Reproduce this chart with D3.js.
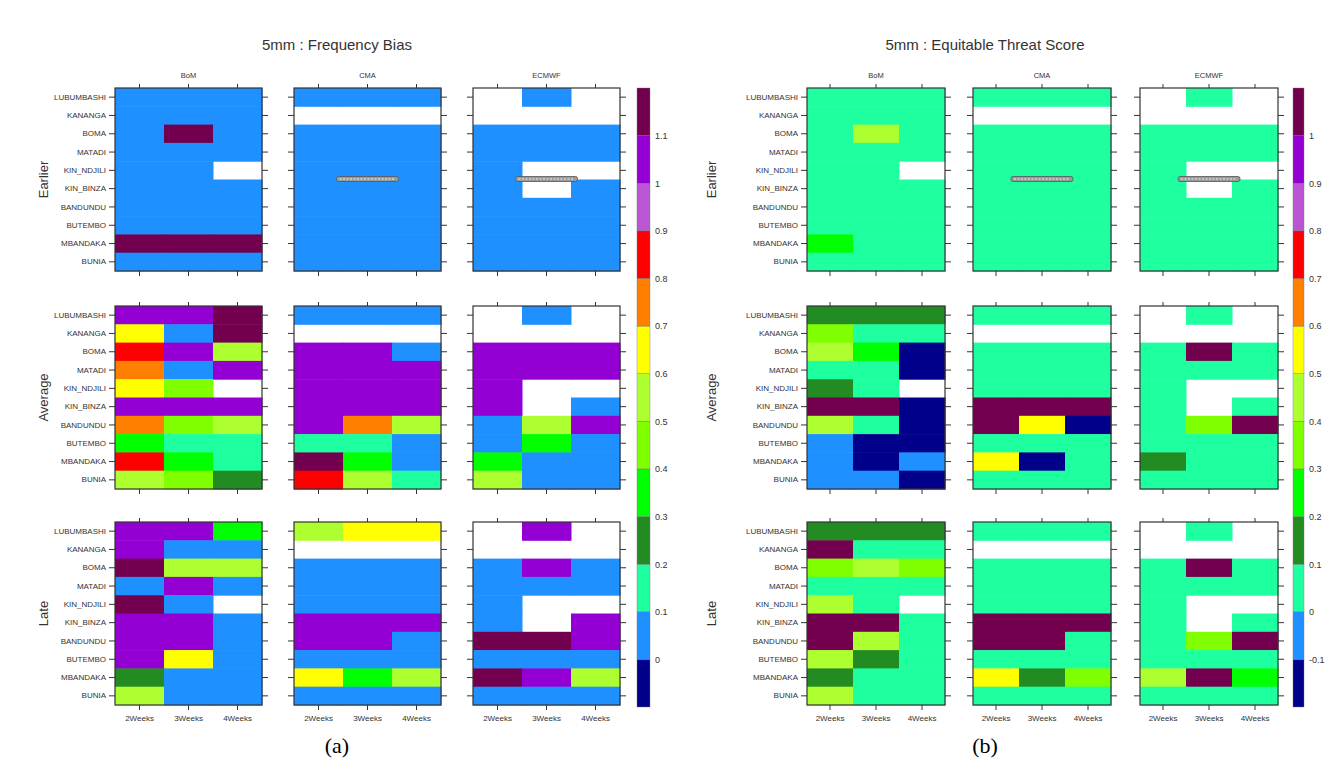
<!DOCTYPE html>
<html>
<head>
<meta charset="utf-8">
<script src="https://cdn.jsdelivr.net/npm/d3@7"></script>
<style>
  body { margin: 0; background: #fff; }
  svg { display: block; font-family: "Liberation Sans", Arial, sans-serif; }
  .axis text { fill: #333; }
</style>
</head>
<body>
<svg id="chart" width="1332" height="766"></svg>
<script>
// ---- data (one value per coloured cell, null = blank) ----
var stations = ["LUBUMBASHI", "KANANGA", "BOMA", "MATADI", "KIN_NDJILI",
                "KIN_BINZA", "BANDUNDU", "BUTEMBO", "MBANDAKA", "BUNIA"];
var leadTimes = ["2Weeks", "3Weeks", "4Weeks"];
var models = ["BoM", "CMA", "ECMWF"];
var periods = ["Earlier", "Average", "Late"];

var palette = ["#00008b", "#1e90ff", "#1effa0", "#228b22", "#00ff00", "#7fff00", "#adff2f",
               "#ffff00", "#ff7f00", "#ff0000", "#ba55d3", "#9400d3", "#72004f"];
var fbiBreaks = [0, 0.1, 0.2, 0.3, 0.4, 0.5, 0.6, 0.7, 0.8, 0.9, 1, 1.1];
var etsBreaks = [-0.1, 0, 0.1, 0.2, 0.3, 0.4, 0.5, 0.6, 0.7, 0.8, 0.9, 1];

// each row: BoM 2/3/4 weeks, CMA 2/3/4 weeks, ECMWF 2/3/4 weeks
var fbiEarlier = [
  [0.05, 0.05, 0.05,  0.05, 0.05, 0.05,  null, 0.05, null],
  [0.05, 0.05, 0.05,  null, null, null,  null, null, null],
  [0.05, 1.2, 0.05,   0.05, 0.05, 0.05,  0.05, 0.05, 0.05],
  [0.05, 0.05, 0.05,  0.05, 0.05, 0.05,  0.05, 0.05, 0.05],
  [0.05, 0.05, null,  0.05, 0.05, 0.05,  0.05, null, null],
  [0.05, 0.05, 0.05,  0.05, 0.05, 0.05,  0.05, null, 0.05],
  [0.05, 0.05, 0.05,  0.05, 0.05, 0.05,  0.05, 0.05, 0.05],
  [0.05, 0.05, 0.05,  0.05, 0.05, 0.05,  0.05, 0.05, 0.05],
  [1.2, 1.2, 1.2,     0.05, 0.05, 0.05,  0.05, 0.05, 0.05],
  [0.05, 0.05, 0.05,  0.05, 0.05, 0.05,  0.05, 0.05, 0.05]
];
var fbiAverage = [
  [1.05, 1.05, 1.2,   0.05, 0.05, 0.05,  null, 0.05, null],
  [0.65, 0.05, 1.2,   null, null, null,  null, null, null],
  [0.85, 1.05, 0.55,  1.05, 1.05, 0.05,  1.05, 1.05, 1.05],
  [0.75, 0.05, 1.05,  1.05, 1.05, 1.05,  1.05, 1.05, 1.05],
  [0.65, 0.45, null,  1.05, 1.05, 1.05,  1.05, null, null],
  [1.05, 1.05, 1.05,  1.05, 1.05, 1.05,  1.05, null, 0.05],
  [0.75, 0.45, 0.55,  1.05, 0.75, 0.55,  0.05, 0.55, 1.05],
  [0.35, 0.15, 0.15,  0.15, 0.15, 0.05,  0.05, 0.35, 0.05],
  [0.85, 0.35, 0.15,  1.2, 0.35, 0.05,   0.35, 0.05, 0.05],
  [0.55, 0.45, 0.25,  0.85, 0.55, 0.15,  0.55, 0.05, 0.05]
];
var fbiLate = [
  [1.05, 1.05, 0.35,  0.55, 0.65, 0.65,  null, 1.05, null],
  [1.05, 0.05, 0.05,  null, null, null,  null, null, null],
  [1.2, 0.55, 0.55,   0.05, 0.05, 0.05,  0.05, 1.05, 0.05],
  [0.05, 1.05, 0.05,  0.05, 0.05, 0.05,  0.05, 0.05, 0.05],
  [1.2, 0.05, null,   0.05, 0.05, 0.05,  0.05, null, null],
  [1.05, 1.05, 0.05,  1.05, 1.05, 1.05,  0.05, null, 1.05],
  [1.05, 1.05, 0.05,  1.05, 1.05, 0.05,  1.2, 1.2, 1.05],
  [1.05, 0.65, 0.05,  0.05, 0.05, 0.05,  0.05, 0.05, 0.05],
  [0.25, 0.05, 0.05,  0.65, 0.35, 0.55,  1.2, 1.05, 0.55],
  [0.55, 0.05, 0.05,  0.05, 0.05, 0.05,  0.05, 0.05, 0.05]
];
var etsEarlier = [
  [0.05, 0.05, 0.05,  0.05, 0.05, 0.05,  null, 0.05, null],
  [0.05, 0.05, 0.05,  null, null, null,  null, null, null],
  [0.05, 0.45, 0.05,  0.05, 0.05, 0.05,  0.05, 0.05, 0.05],
  [0.05, 0.05, 0.05,  0.05, 0.05, 0.05,  0.05, 0.05, 0.05],
  [0.05, 0.05, null,  0.05, 0.05, 0.05,  0.05, null, null],
  [0.05, 0.05, 0.05,  0.05, 0.05, 0.05,  0.05, null, 0.05],
  [0.05, 0.05, 0.05,  0.05, 0.05, 0.05,  0.05, 0.05, 0.05],
  [0.05, 0.05, 0.05,  0.05, 0.05, 0.05,  0.05, 0.05, 0.05],
  [0.25, 0.05, 0.05,  0.05, 0.05, 0.05,  0.05, 0.05, 0.05],
  [0.05, 0.05, 0.05,  0.05, 0.05, 0.05,  0.05, 0.05, 0.05]
];
var etsAverage = [
  [0.15, 0.15, 0.15,    0.05, 0.05, 0.05,    null, 0.05, null],
  [0.35, 0.05, 0.05,    null, null, null,    null, null, null],
  [0.45, 0.25, -0.15,   0.05, 0.05, 0.05,    0.05, 1.1, 0.05],
  [0.05, 0.05, -0.15,   0.05, 0.05, 0.05,    0.05, 0.05, 0.05],
  [0.15, 0.05, null,    0.05, 0.05, 0.05,    0.05, null, null],
  [1.1, 1.1, -0.15,     1.1, 1.1, 1.1,       0.05, null, 0.05],
  [0.45, 0.05, -0.15,   1.1, 0.55, -0.15,    0.05, 0.35, 1.1],
  [-0.05, -0.15, -0.15, 0.05, 0.05, 0.05,    0.05, 0.05, 0.05],
  [-0.05, -0.15, -0.05, 0.55, -0.15, 0.05,   0.15, 0.05, 0.05],
  [-0.05, -0.05, -0.15, 0.05, 0.05, 0.05,    0.05, 0.05, 0.05]
];
var etsLate = [
  [0.15, 0.15, 0.15,  0.05, 0.05, 0.05,  null, 0.05, null],
  [1.1, 0.05, 0.05,   null, null, null,  null, null, null],
  [0.35, 0.45, 0.35,  0.05, 0.05, 0.05,  0.05, 1.1, 0.05],
  [0.05, 0.05, 0.05,  0.05, 0.05, 0.05,  0.05, 0.05, 0.05],
  [0.45, 0.05, null,  0.05, 0.05, 0.05,  0.05, null, null],
  [1.1, 1.1, 0.05,    1.1, 1.1, 1.1,     0.05, null, 0.05],
  [1.1, 0.45, 0.05,   1.1, 1.1, 0.05,    0.05, 0.35, 1.1],
  [0.45, 0.15, 0.05,  0.05, 0.05, 0.05,  0.05, 0.05, 0.05],
  [0.15, 0.05, 0.05,  0.55, 0.15, 0.35,  0.45, 1.1, 0.25],
  [0.45, 0.05, 0.05,  0.05, 0.05, 0.05,  0.05, 0.05, 0.05]
];

// ---- drawing ----
var svg = d3.select("#chart");
var panelTops = [88, 306, 522];
var panelH = 183;

function drawFigure(opts) {
  var g = svg.append("g");
  var color = d3.scaleThreshold().domain(opts.breaks).range(palette);

  g.append("text")
    .attr("x", opts.titleX).attr("y", 50)
    .attr("text-anchor", "middle")
    .attr("font-size", 15).attr("fill", "#333")
    .text(opts.title);

  g.append("text")
    .attr("x", opts.titleX).attr("y", 753)
    .attr("text-anchor", "middle")
    .attr("font-family", "'Liberation Serif', 'Times New Roman', serif")
    .attr("font-size", 22).attr("fill", "#000")
    .text(opts.tag);

  opts.grids.forEach(function(grid, pi) {
    var y0 = panelTops[pi];
    var y = d3.scaleBand().domain(stations).range([y0, y0 + panelH]);

    // period label
    g.append("text")
      .attr("transform", "translate(" + opts.periodX + "," + (y0 + panelH / 2) + ") rotate(-90)")
      .attr("text-anchor", "middle")
      .attr("font-size", 13).attr("fill", "#333")
      .text(periods[pi]);

    models.forEach(function(m, mi) {
      var x0 = opts.panelX[mi];
      var x = d3.scaleBand().domain(leadTimes).range([x0, x0 + opts.panelW]);
      var cells = [];
      stations.forEach(function(s, si) {
        leadTimes.forEach(function(l, li) {
          cells.push({ s: s, l: l, v: grid[si][mi * 3 + li] });
        });
      });

      var p = g.append("g");
      p.selectAll("rect.cell")
        .data(cells.filter(function(d) { return d.v !== null; }))
        .enter().append("rect")
        .attr("class", "cell")
        .attr("x", function(d) { return x(d.l); })
        .attr("y", function(d) { return y(d.s); })
        .attr("width", x.bandwidth() + 0.5)
        .attr("height", y.bandwidth() + 0.5)
        .attr("fill", function(d) { return color(d.v); });

      // unreadable overlay blob seen in the Earlier CMA / ECMWF panels
      if (pi === 0 && mi > 0) {
        var cx = x0 + opts.panelW / 2;
        var cy = y("KIN_BINZA");
        p.append("rect")
          .attr("x", cx - 31).attr("y", cy - 3)
          .attr("width", 62).attr("height", 5).attr("rx", 2)
          .attr("fill", "#9a9a9a").attr("stroke", "#555").attr("stroke-width", 0.8);
        p.append("line")
          .attr("x1", cx - 28).attr("x2", cx + 28)
          .attr("y1", cy - 0.5).attr("y2", cy - 0.5)
          .attr("stroke", "#eee").attr("stroke-width", 1.2)
          .attr("stroke-dasharray", "2,1.5");
      }

      var ax = d3.axisLeft(y).tickSize(6).tickPadding(3);
      var la = p.append("g").attr("class", "axis")
        .attr("transform", "translate(" + x0 + ",0)")
        .call(ax);
      la.selectAll("text").attr("font-size", 8).style("display", mi === 0 ? null : "none");

      p.append("g").attr("class", "axis")
        .attr("transform", "translate(" + (x0 + opts.panelW) + ",0)")
        .call(d3.axisRight(y).tickSize(6).tickFormat(""));

      p.append("g").attr("class", "axis")
        .attr("transform", "translate(0," + y0 + ")")
        .call(d3.axisTop(x).tickSize(4).tickFormat(""));

      var ba = p.append("g").attr("class", "axis")
        .attr("transform", "translate(0," + (y0 + panelH) + ")")
        .call(d3.axisBottom(x).tickSize(5).tickPadding(5));
      ba.selectAll("text").attr("font-size", 8).style("display", pi === 2 ? null : "none");

      p.selectAll(".axis path.domain").remove();
      p.selectAll(".axis line").attr("stroke", "#333");

      p.append("rect")
        .attr("x", x0).attr("y", y0)
        .attr("width", opts.panelW).attr("height", panelH)
        .attr("fill", "none").attr("stroke", "#333").attr("stroke-width", 1.2);

      if (pi === 0) {
        p.append("text")
          .attr("x", x0 + opts.panelW / 2).attr("y", 78)
          .attr("text-anchor", "middle")
          .attr("font-size", 7.5).attr("fill", "#333")
          .text(m);
      }
    });
  });

  // colour key
  var lo = opts.breaks[0] - 0.1, hi = opts.breaks[opts.breaks.length - 1] + 0.1;
  var ky = d3.scaleLinear().domain([lo, hi]).range([707, 88]);
  var edges = [lo].concat(opts.breaks).concat([hi]);
  var k = g.append("g");
  k.selectAll("rect")
    .data(d3.range(palette.length))
    .enter().append("rect")
    .attr("x", opts.keyX)
    .attr("y", function(i) { return ky(edges[i + 1]); })
    .attr("width", opts.keyW)
    .attr("height", function(i) { return ky(edges[i]) - ky(edges[i + 1]); })
    .attr("fill", function(i) { return palette[i]; })
    .attr("stroke", "#777").attr("stroke-width", 0.4);
  var fmt = d3.format(".1~f");
  var ka = k.append("g").attr("class", "axis")
    .attr("transform", "translate(" + (opts.keyX + opts.keyW) + ",0)")
    .call(d3.axisRight(ky).tickValues(opts.breaks).tickSize(0).tickPadding(5)
      .tickFormat(function(d) { return fmt(d).replace("\u2212", "-"); }));
  ka.select("path.domain").remove();
  ka.selectAll("text").attr("font-size", 9);
}

drawFigure({
  title: "5mm : Frequency Bias", tag: "(a)", titleX: 337,
  grids: [fbiEarlier, fbiAverage, fbiLate], breaks: fbiBreaks,
  panelX: [115, 294, 473], panelW: 147, periodX: 48,
  keyX: 637, keyW: 13
});
drawFigure({
  title: "5mm : Equitable Threat Score", tag: "(b)", titleX: 985,
  grids: [etsEarlier, etsAverage, etsLate], breaks: etsBreaks,
  panelX: [807, 973, 1140], panelW: 138, periodX: 716,
  keyX: 1293, keyW: 11
});
</script>
</body>
</html>
